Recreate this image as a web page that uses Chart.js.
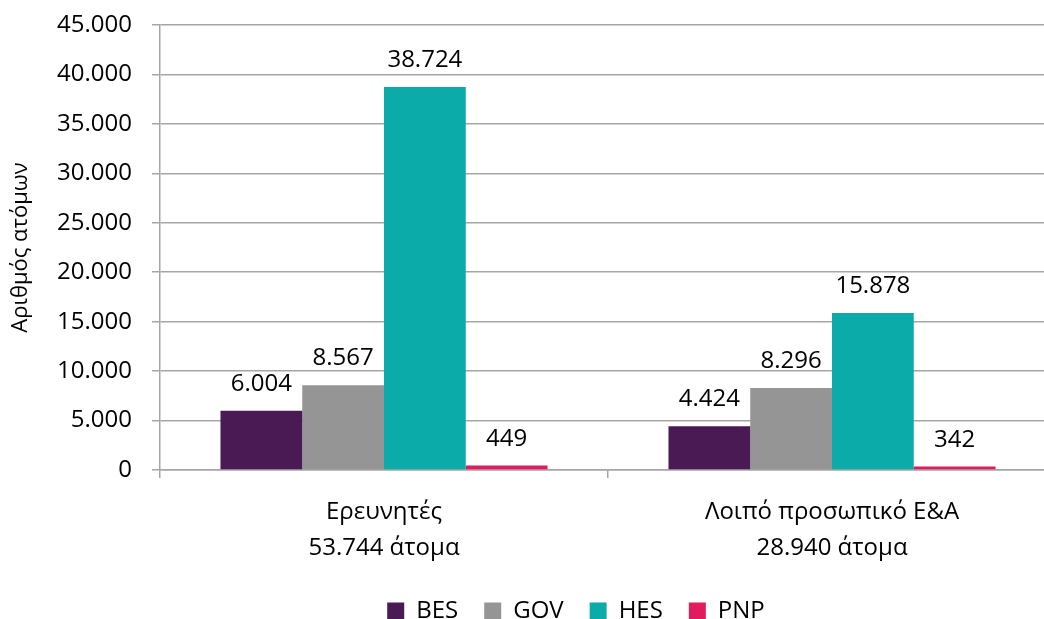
<!DOCTYPE html>
<html>
<head>
<meta charset="utf-8">
<title>Προσωπικό Ε&amp;Α</title>
<script src="https://cdn.jsdelivr.net/npm/chart.js@4/dist/chart.umd.min.js"></script>
<style>
  html, body { margin: 0; padding: 0; background: #fff; }
  #wrap { width: 1044px; height: 619px; overflow: hidden; position: relative; }
  #chart { display: block; }
</style>
</head>
<body>
<div id="wrap">
  <canvas id="chart" width="1056" height="633"></canvas>
</div>
<script>
// Data
const categories = [
  ['Ερευνητές', '53.744 άτομα'],
  ['Λοιπό προσωπικό Ε&Α', '28.940 άτομα']
];
const bes = [6004, 4424];
const gov = [8567, 8296];
const hes = [38724, 15878];
const pnp = [449, 342];
const yTicks = [0, 5000, 10000, 15000, 20000, 25000, 30000, 35000, 40000, 45000];

const FONT = "'Open Sans', 'DejaVu Sans', sans-serif";
const FSIZE = 24;

// Greek style thousands separator
function fmt(v) {
  return String(v).replace(/\B(?=(\d{3})+(?!\d))/g, '.');
}

// Draw value labels above bars
const valueLabels = {
  id: 'valueLabels',
  afterDatasetsDraw(chart) {
    const ctx = chart.ctx;
    ctx.save();
    ctx.font = FSIZE + 'px ' + FONT;
    ctx.fillStyle = '#000';
    ctx.textAlign = 'center';
    ctx.textBaseline = 'alphabetic';
    chart.data.datasets.forEach((ds, i) => {
      const meta = chart.getDatasetMeta(i);
      meta.data.forEach((bar, j) => {
        ctx.fillText(fmt(ds.data[j]), bar.x, bar.y - 20);
      });
    });
    ctx.restore();
  }
};

// Legend in the original sits a bit right of the canvas centre
const legendShift = {
  id: 'legendShift',
  afterLayout(chart) {
    if (chart.legend) chart.legend.left += 96;
  }
};

const ctx = document.getElementById('chart').getContext('2d');

new Chart(ctx, {
  type: 'bar',
  data: {
    labels: categories,
    datasets: [
      { label: 'BES', data: bes, backgroundColor: '#4a1a55' },
      { label: 'GOV', data: gov, backgroundColor: '#959595' },
      { label: 'HES', data: hes, backgroundColor: '#0babaa' },
      { label: 'PNP', data: pnp, backgroundColor: '#e01b5e' }
    ]
  },
  options: {
    responsive: false,
    animation: false,
    devicePixelRatio: 1,
    layout: { padding: { top: 25, left: 0, right: 0, bottom: 0 } },
    datasets: {
      bar: { categoryPercentage: 0.73, barPercentage: 1.0 }
    },
    plugins: {
      legend: {
        position: 'bottom',
        labels: {
          boxWidth: 17,
          boxHeight: 17,
          padding: 26,
          color: '#000',
          font: { family: FONT, size: FSIZE }
        }
      },
      tooltip: { enabled: false }
    },
    scales: {
      x: {
        grid: {
          drawOnChartArea: false,
          color: '#a6a6a6',
          lineWidth: 1.5,
          tickLength: 8
        },
        border: { color: '#a6a6a6', width: 1.5 },
        ticks: {
          color: '#000',
          padding: 16,
          maxRotation: 0,
          font: { family: FONT, size: FSIZE, lineHeight: 1.5 }
        },
        afterFit(scale) { scale.height = 103; }
      },
      y: {
        min: 0,
        max: 45000,
        afterBuildTicks(scale) {
          scale.ticks = yTicks.map(v => ({ value: v }));
        },
        grid: {
          color: '#a6a6a6',
          lineWidth: 1.5,
          tickLength: 8
        },
        border: { color: '#a6a6a6', width: 1.5 },
        ticks: {
          color: '#000',
          padding: 20,
          font: { family: FONT, size: FSIZE },
          callback: v => fmt(v)
        },
        title: {
          display: true,
          text: 'Αριθμός ατόμων',
          color: '#000',
          padding: { top: 8, bottom: 0 },
          font: { family: FONT, size: 22 }
        },
        afterFit(scale) {
          scale.width = 160;
          scale.paddingTop = 10;
          scale.paddingBottom = 0;
        }
      }
    }
  },
  plugins: [valueLabels, legendShift]
});
</script>
</body>
</html>
